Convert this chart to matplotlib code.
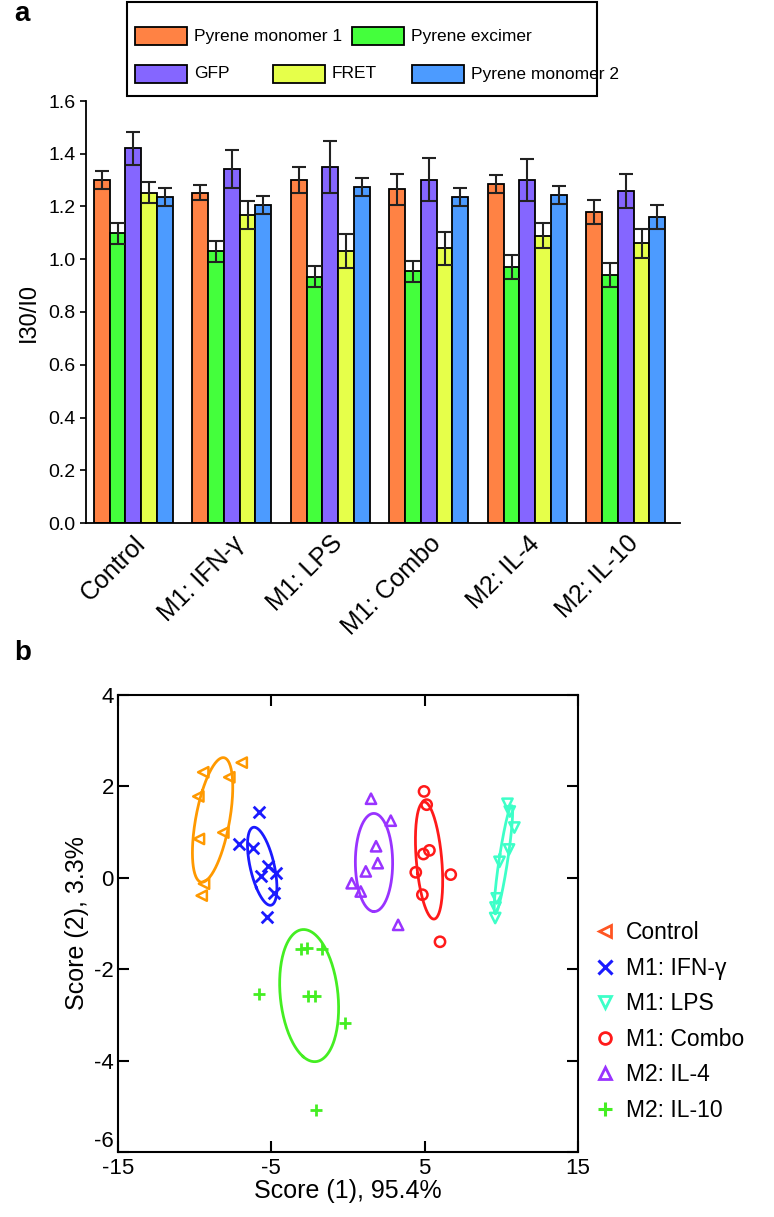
import numpy as np
import matplotlib
matplotlib.use('Agg')
import matplotlib.pyplot as plt
from matplotlib.patches import Rectangle
from matplotlib.lines import Line2D

plt.rcParams['font.family'] = ['Liberation Sans', 'DejaVu Sans']
plt.rcParams['axes.unicode_minus'] = False

# ---------------- data: panel a ----------------
groups = ['Control', 'M1: IFN-γ', 'M1: LPS', 'M1: Combo', 'M2: IL-4', 'M2: IL-10']
series_names = ['Pyrene monomer 1', 'Pyrene excimer', 'GFP', 'FRET', 'Pyrene monomer 2']
pyrene_m1 = [1.301, 1.253, 1.301, 1.265, 1.284, 1.18]
pyrene_ex = [1.098, 1.030, 0.934, 0.954, 0.972, 0.94]
gfp = [1.420, 1.343, 1.351, 1.301, 1.301, 1.26]
fret = [1.253, 1.167, 1.030, 1.041, 1.090, 1.06]
pyrene_m2 = [1.236, 1.205, 1.274, 1.236, 1.245, 1.16]
pyrene_m1_err = [0.034, 0.029, 0.049, 0.059, 0.034, 0.045]
pyrene_ex_err = [0.039, 0.039, 0.039, 0.039, 0.045, 0.045]
gfp_err = [0.063, 0.073, 0.098, 0.082, 0.079, 0.065]
fret_err = [0.039, 0.053, 0.064, 0.063, 0.049, 0.055]
pyrene_m2_err = [0.034, 0.034, 0.034, 0.034, 0.034, 0.045]
bar_colors = ['#FF8244', '#44FF3C', '#8566FF', '#E6FF4A', '#4C9BFF']

# ---------------- data: panel b ----------------
pca_groups = ['Control', 'M1: IFN-γ', 'M1: LPS', 'M1: Combo', 'M2: IL-4', 'M2: IL-10']
control_x = [-6.93, -9.44, -7.74, -9.76, -8.13, -9.72, -9.39, -9.54]
control_y = [2.52, 2.31, 2.20, 1.78, 0.99, 0.85, -0.13, -0.39]
ifn_x = [-5.80, -7.11, -6.17, -5.20, -4.69, -5.67, -4.82, -5.30]
ifn_y = [1.43, 0.74, 0.66, 0.25, 0.10, 0.03, -0.34, -0.85]
lps_x = [10.40, 10.55, 10.85, 10.50, 9.88, 9.70, 9.62, 9.60]
lps_y = [1.62, 1.45, 1.10, 0.62, 0.35, -0.45, -0.65, -0.88]
combo_x = [4.96, 5.13, 5.31, 4.92, 4.42, 6.70, 4.85, 6.00]
combo_y = [1.89, 1.60, 0.60, 0.52, 0.12, 0.07, -0.37, -1.40]
il4_x = [1.50, 2.79, 1.83, 1.94, 1.16, 0.24, 0.83, 3.27]
il4_y = [1.73, 1.25, 0.69, 0.32, 0.14, -0.12, -0.30, -1.03]
il10_x = [-3.09, -2.65, -1.71, -5.78, -2.63, -2.15, -0.19, -2.08]
il10_y = [-1.56, -1.54, -1.55, -2.55, -2.58, -2.58, -3.17, -5.09]
pca_markers = ['<', 'x', 'v', 'o', '^', '+']
pca_colors = ['#FF9900', '#1A1AFF', '#3DFFC8', '#FF1A1A', '#9933FF', '#44EE22']
legend_colors = ['#FF5522', '#1A1AFF', '#3DFFC8', '#FF1A1A', '#9933FF', '#44EE22']

W, H = 774, 1217
fig = plt.figure(figsize=(W / 100, H / 100), dpi=100)


def fx(px):
    return px / W


def fy(py):
    return 1 - py / H


# ---------------- panel a ----------------
ax1 = fig.add_axes([fx(86), fy(523), fx(680) - fx(86), fy(101) - fy(523)])
values = [pyrene_m1, pyrene_ex, gfp, fret, pyrene_m2]
errs = [pyrene_m1_err, pyrene_ex_err, gfp_err, fret_err, pyrene_m2_err]
x = np.arange(len(groups))
bw = 0.16
for j in range(5):
    ax1.bar(x + (j - 2) * bw, values[j], bw, color=bar_colors[j], edgecolor='black',
            linewidth=1.3, yerr=errs[j], capsize=5,
            error_kw=dict(elinewidth=1.5, capthick=1.5, ecolor='#222222'), zorder=2)
ax1.set_xlim(-0.48, 5.55)
ax1.set_ylim(0, 1.6)
ax1.set_yticks(np.arange(0, 1.61, 0.2))
ax1.set_yticklabels([f'{v:.1f}' for v in np.arange(0, 1.61, 0.2)], fontsize=14)
ax1.set_xticks(x)
ax1.set_xticklabels(groups, rotation=45, ha='right', rotation_mode='anchor', fontsize=18)
ax1.tick_params(axis='x', length=0, pad=6)
ax1.tick_params(axis='y', length=4, width=1.2)
for s in ['top', 'right']:
    ax1.spines[s].set_visible(False)
for s in ['left', 'bottom']:
    ax1.spines[s].set_linewidth(1.3)
ax1.set_ylabel('I30/I0', fontsize=17, labelpad=6)

# legend (manual layout in figure pixels)
fig.patches.append(Rectangle((fx(127), fy(96)), fx(597) - fx(127), fy(2) - fy(96),
                             transform=fig.transFigure, fill=False, edgecolor='black',
                             linewidth=1.5))
leg_items = [(0, 135, 36), (1, 352, 36), (2, 135, 74), (3, 273, 74), (4, 412, 74)]
for j, px, py in leg_items:
    fig.patches.append(Rectangle((fx(px), fy(py + 9)), fx(52), 18 / H,
                                 transform=fig.transFigure, facecolor=bar_colors[j],
                                 edgecolor='black', linewidth=1.3))
    fig.text(fx(px + 59), fy(py), series_names[j], fontsize=12.5, va='center', ha='left')
fig.text(fx(14), fy(14), 'a', fontsize=20, fontweight='bold', va='center', ha='left')

# ---------------- panel b ----------------
ax2 = fig.add_axes([fx(118), fy(1152), fx(578) - fx(118), fy(695) - fy(1152)])
xs_all = [control_x, ifn_x, lps_x, combo_x, il4_x, il10_x]
ys_all = [control_y, ifn_y, lps_y, combo_y, il4_y, il10_y]
t = np.linspace(0, 2 * np.pi, 200)
n_std = 1.22
for k in range(6):
    xs = np.array(xs_all[k])
    ys = np.array(ys_all[k])
    mk = pca_markers[k]
    if mk in ('x', '+'):
        ax2.scatter(xs, ys, marker=mk, s=70, color=pca_colors[k], linewidths=2, zorder=3)
    else:
        ax2.scatter(xs, ys, marker=mk, s=55, facecolors='none', edgecolors=pca_colors[k],
                    linewidths=1.8, zorder=3)
    cov = np.cov(xs, ys)
    vals, vecs = np.linalg.eigh(cov)
    circ = np.vstack([np.cos(t), np.sin(t)]) * (n_std * np.sqrt(vals))[:, None]
    pts = vecs @ circ
    ax2.plot(xs.mean() + pts[0], ys.mean() + pts[1], color=pca_colors[k], lw=2, zorder=2)

ax2.set_xlim(-15, 15)
ax2.set_ylim(-6, 4)
ax2.set_xticks([-15, -5, 5, 15])
ax2.set_yticks([-6, -4, -2, 0, 2, 4])
ax2.tick_params(direction='in', length=8, width=1.5, top=True, right=True, labelsize=16)
ax2.tick_params(axis='x', pad=4)
ax2.tick_params(axis='y', pad=3)
ax2.get_yticklabels()[0].set_verticalalignment('bottom')
for s in ax2.spines.values():
    s.set_linewidth(1.5)
ax2.set_xlabel('Score (1), 95.4%', fontsize=18, labelpad=0)
ax2.set_ylabel('Score (2), 3.3%', fontsize=18, labelpad=4)

handles = []
for k in range(6):
    mk = pca_markers[k]
    if mk in ('x', '+'):
        h = Line2D([], [], linestyle='none', marker=mk, color=legend_colors[k],
                   markersize=10, markeredgewidth=2.2)
    else:
        h = Line2D([], [], linestyle='none', marker=mk, markerfacecolor='none',
                   markeredgecolor=legend_colors[k], markersize=8.5, markeredgewidth=2)
    handles.append(h)
fig.legend(handles, pca_groups, loc='upper left', bbox_to_anchor=(fx(596), fy(921)),
           frameon=False, fontsize=16.5, handlelength=0.8, handletextpad=0.5,
           labelspacing=0.55, borderaxespad=0, borderpad=0)
fig.text(fx(14), fy(653), 'b', fontsize=20, fontweight='bold', va='center', ha='left')

fig.savefig('out.png', dpi=100)
